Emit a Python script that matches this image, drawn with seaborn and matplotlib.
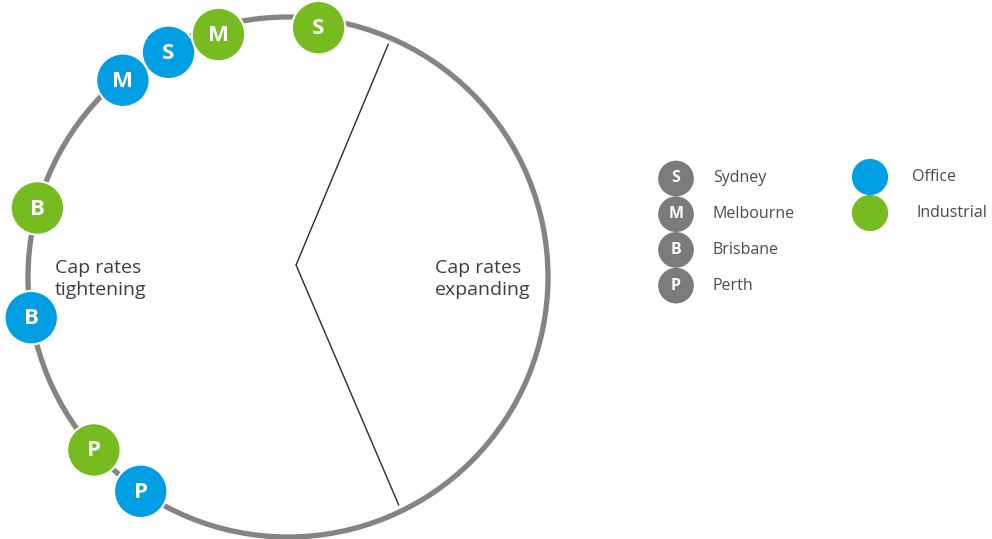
import numpy as np
import pandas as pd
import matplotlib
matplotlib.use("Agg")
import matplotlib.pyplot as plt
import seaborn as sns
from matplotlib.patches import Circle

# ─────────────────────────────────────────────
# DATA (position on the property clock, degrees, 0 = 3 o'clock)
# ─────────────────────────────────────────────
cities = ["Sydney", "Melbourne", "Brisbane", "Perth"]
city_letters = ["S", "M", "B", "P"]
sectors = ["Office", "Industrial"]

office_angles = [118.0, 130.0, 189.0, 235.5]       # S, M, B, P
industrial_angles = [83.0, 106.0, 164.6, 221.7]    # S, M, B, P

divider_angles = [66.7, -64.1]   # where the two phase lines hit the ring
phase_labels = ["Cap rates\ntightening", "Cap rates\nexpanding"]

OFFICE = "#009FE3"
INDUSTRIAL = "#76BC21"
RING = "#848484"
TEXT = "#3d3d48"
palette = {"Office": OFFICE, "Industrial": INDUSTRIAL}

sns.set_theme(style="white")
plt.rcParams["font.family"] = ["Open Sans", "DejaVu Sans"]

rows = []
for letter, a in zip(city_letters, office_angles):
    rows.append({"letter": letter, "sector": "Office", "angle": a})
for letter, a in zip(city_letters, industrial_angles):
    rows.append({"letter": letter, "sector": "Industrial", "angle": a})
df = pd.DataFrame(rows)
# markers near the top sit a touch inside the ring in the original
df["rad"] = 1.0 - 0.035 * np.clip(np.sin(np.radians(df["angle"])), 0, 1) ** 4
df["x"] = df["rad"] * np.cos(np.radians(df["angle"]))
df["y"] = df["rad"] * np.sin(np.radians(df["angle"]))

# ─────────────────────────────────────────────
# CLOCK
# ─────────────────────────────────────────────
W, H = 992, 539
cx, cy, R = 288, 277, 260   # pixel centre / radius of the ring
fig = plt.figure(figsize=(W / 100, H / 100), dpi=100)
ax = fig.add_axes([0, 0, 1, 1])
ax.set_xlim(-cx / R, (W - cx) / R)
ax.set_ylim(-(H - cy) / R, cy / R)
ax.axis("off")

ax.add_patch(Circle((0, 0), 1.0, fill=False, lw=3.8, color=RING, zorder=1))

apex = (0.031, 0.046)
for a in divider_angles:
    ex, ey = 0.975 * np.cos(np.radians(a)), 0.975 * np.sin(np.radians(a))
    ax.plot([apex[0], ex], [apex[1], ey], color="#2a2a2a", lw=1.0, zorder=1)

sns.scatterplot(data=df, x="x", y="y", hue="sector", palette=palette, s=1480,
                edgecolor="white", linewidth=1.5, legend=False, ax=ax, zorder=3)
for _, r in df.iterrows():
    ax.text(r["x"], r["y"] - 0.004, r["letter"], color="white", fontsize=16,
            fontweight="bold", ha="center", va="center", zorder=4)

ax.text((55 - cx) / R, (cy - 279) / R, phase_labels[0], color=TEXT, fontsize=14,
        ha="left", va="center", linespacing=1.3)
ax.text((435 - cx) / R, (cy - 279) / R, phase_labels[1], color=TEXT, fontsize=14,
        ha="left", va="center", linespacing=1.3)

# ─────────────────────────────────────────────
# LEGEND (drawn as its own small axes)
# ─────────────────────────────────────────────
lx0, ly0, lw, lh = 640, 150, 352, 160
lax = fig.add_axes([lx0 / W, 1 - (ly0 + lh) / H, lw / W, lh / H])
lax.set_xlim(0, lw)
lax.set_ylim(lh, 0)
lax.axis("off")

leg_city = pd.DataFrame({"letter": city_letters, "city": cities,
                         "row": np.arange(len(cities))})
leg_city["y"] = 28.5 + 35.7 * leg_city["row"]
leg_city["x"] = 36
sns.scatterplot(data=leg_city, x="x", y="y", color="#7b7b7b", s=660,
                edgecolor="none", legend=False, ax=lax)
for _, r in leg_city.iterrows():
    lax.text(r["x"], r["y"], r["letter"], color="white", fontsize=11.5,
             fontweight="bold", ha="center", va="center")
    lax.text(73, r["y"], r["city"], color="#4a4a52", fontsize=11.5,
             ha="left", va="center")

leg_sec = pd.DataFrame({"sector": sectors, "row": np.arange(len(sectors))})
leg_sec["y"] = 27 + 36 * leg_sec["row"]
leg_sec["x"] = 230
sns.scatterplot(data=leg_sec, x="x", y="y", hue="sector", palette=palette, s=680,
                edgecolor="none", legend=False, ax=lax)
for _, r in leg_sec.iterrows():
    lax.text(272 + 4 * r["row"], r["y"], r["sector"], color="#4a4a52", fontsize=11.5,
             ha="left", va="center")

fig.savefig("out.png", dpi=100, facecolor="white")
